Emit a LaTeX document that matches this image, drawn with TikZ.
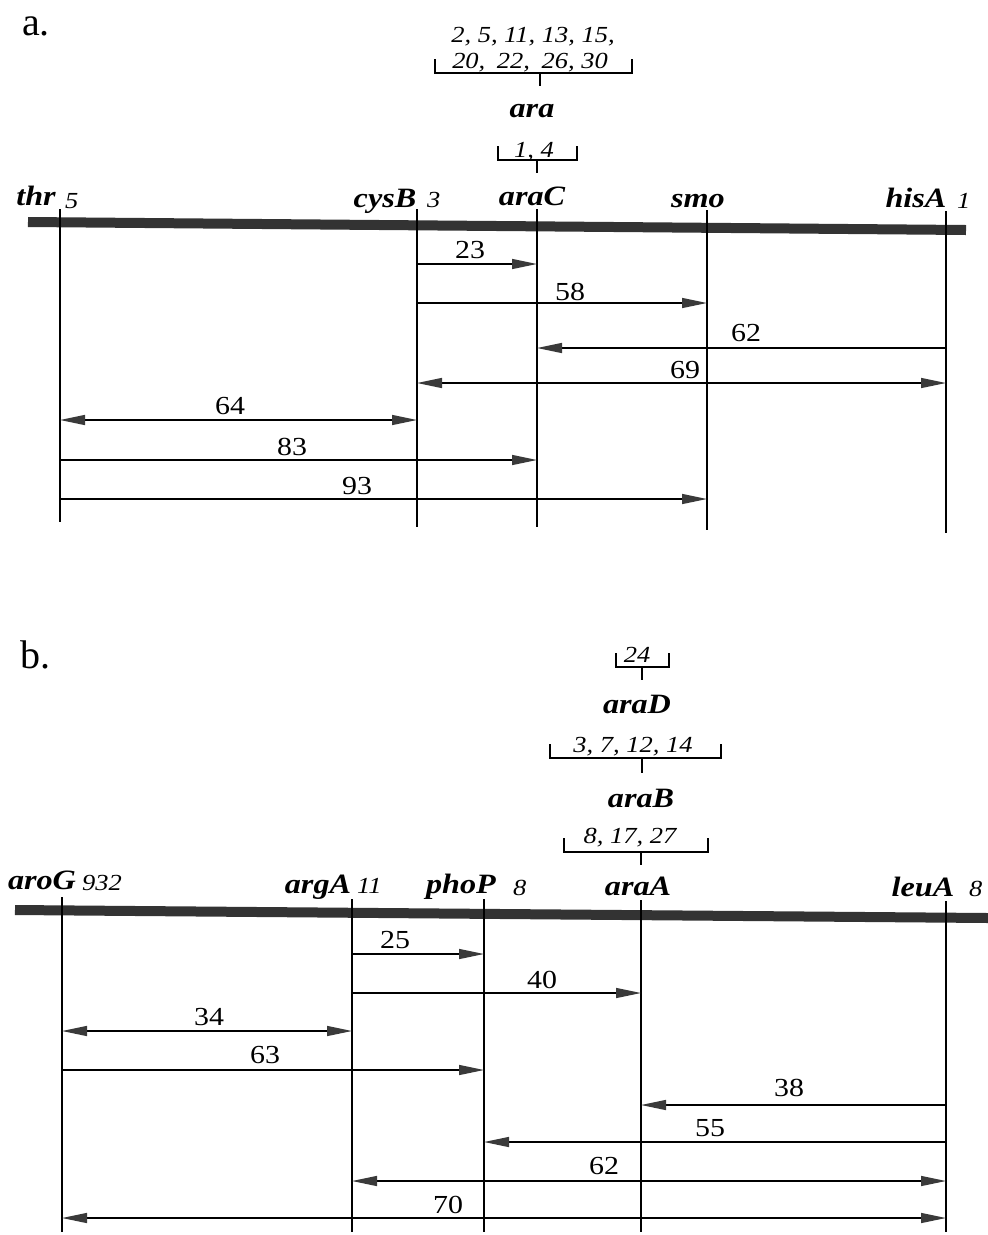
\documentclass[tikz,border=0pt]{standalone}
\usepackage{fontspec}
\setmainfont[FakeStretch=1.15]{Liberation Serif}
\newfontfamily\plainserif{Liberation Serif}
\usetikzlibrary{arrows.meta}
\definecolor{barcol}{HTML}{333333}
\definecolor{headcol}{HTML}{3A3A3A}
\tikzset{
  gene/.style={font=\bfseries\itshape\fontsize{28}{30}\selectfont, inner sep=0pt, anchor=base},
  tagnum/.style={font=\itshape\fontsize{23}{25}\selectfont, inner sep=0pt, anchor=base west},
  brnum/.style={font=\itshape\fontsize{23}{25}\selectfont, inner sep=0pt, anchor=base},
  dist/.style={font=\fontsize{26}{28}\selectfont, inner sep=0pt, anchor=base},
  part/.style={font=\plainserif\fontsize{40}{42}\selectfont, inner sep=0pt, anchor=base west},
  vline/.style={line width=1.6pt},
  chrom/.style={line width=10pt, color=barcol},
  brk/.style={line width=1.6pt},
  tip/.tip={Triangle[length=25pt,width=10pt,color=headcol,fill=headcol]},
  arr/.style={line width=1.4pt, -tip},
  barr/.style={line width=1.4pt, tip-tip},
}
\begin{document}
\begin{tikzpicture}[x=1pt,y=-1pt]
\useasboundingbox (0,0) rectangle (988,1235);

% ================= part a =================
\node[part] (la) at (22,35) {a.};
\draw[chrom] (28,222) -- (966,230);

\coordinate (thrT) at (60,209);  \coordinate (thrB) at (60,522);
\coordinate (cysT) at (417,209); \coordinate (cysB) at (417,527);
\coordinate (aracT) at (537,209); \coordinate (aracB) at (537,527);
\coordinate (smoT) at (707,210); \coordinate (smoB) at (707,530);
\coordinate (hisT) at (946,211); \coordinate (hisB) at (946,533);
\foreach \g in {thr,cys,arac,smo,his}{\draw[vline] (\g T) -- (\g B);}

\node[gene] (gthr) at (36,205) {thr};
\node[tagnum] (tthr) at (65,208) {5};
\node[gene] (gcys) at (385,207) {cysB};
\node[tagnum] (tcys) at (427,207) {3};
\node[gene] (garac) at (532,205) {araC};
\node[gene] (gsmo) at (698,207) {smo};
\node[gene] (ghis) at (916,207) {hisA};
\node[tagnum] (this) at (957,208) {1};

% brackets a
\draw[brk] (498,146) -- (498,160) -- (577,160) -- (577,146);
\draw[brk] (537,160) -- (537,173);
\node[brnum] (b14) at (534,157) {1, 4};
\node[gene] (gara) at (532,117) {ara};
\draw[brk] (435,59) -- (435,73) -- (632,73) -- (632,59);
\draw[brk] (540,73) -- (540,86);
\node[brnum] (bara1) at (533,42) {2, 5, 11, 13, 15,};
\node[brnum] (bara2) at (530,68) {20,\hspace{5pt} 22,\hspace{5pt} 26, 30};

% arrows a
\draw[arr] (cysT |- 0,264) -- (aracT |- 0,264);
\node[dist] (d23) at (470,258) {23};
\draw[arr] (cysT |- 0,303) -- (smoT |- 0,303);
\node[dist] (d58) at (570,300) {58};
\draw[arr] (hisT |- 0,348) -- (aracT |- 0,348);
\node[dist] (d62) at (746,341) {62};
\draw[barr] (cysT |- 0,383) -- (hisT |- 0,383);
\node[dist] (d69) at (685,378) {69};
\draw[barr] (thrT |- 0,420) -- (cysT |- 0,420);
\node[dist] (d64) at (230,414) {64};
\draw[arr] (thrT |- 0,460) -- (aracT |- 0,460);
\node[dist] (d83) at (292,455) {83};
\draw[arr] (thrT |- 0,499) -- (smoT |- 0,499);
\node[dist] (d93) at (357,494) {93};

% ================= part b =================
\node[part] (lb) at (20,668) {b.};
\draw[chrom] (15,910) -- (988,918);

\coordinate (aroT) at (62,897);  \coordinate (aroB) at (62,1232);
\coordinate (argT) at (352,899); \coordinate (argB) at (352,1232);
\coordinate (phoT) at (484,899); \coordinate (phoB) at (484,1232);
\coordinate (araaT) at (641,900); \coordinate (araaB) at (641,1232);
\coordinate (leuT) at (946,901); \coordinate (leuB) at (946,1232);
\foreach \g in {aro,arg,pho,araa,leu}{\draw[vline] (\g T) -- (\g B);}

\node[gene] (garo) at (42,889) {aroG};
\node[tagnum] (taro) at (82,890) {932};
\node[gene] (garg) at (318,893) {argA};
\node[tagnum] (targ) at (357,893) {11};
\node[gene] (gpho) at (461,893) {phoP};
\node[tagnum] (tpho) at (513,895) {8};
\node[gene] (garaa) at (638,895) {araA};
\node[gene] (gleu) at (923,896) {leuA};
\node[tagnum] (tleu) at (969,896) {8};

% brackets b
\draw[brk] (616,653) -- (616,667) -- (669,667) -- (669,653);
\draw[brk] (642,667) -- (642,680);
\node[brnum] (b24) at (637,662) {24};
\node[gene] (garad) at (637,713) {araD};
\draw[brk] (550,744) -- (550,758) -- (721,758) -- (721,744);
\draw[brk] (642,758) -- (642,773);
\node[brnum] (b3714) at (633,752) {3, 7, 12, 14};
\node[gene] (garab) at (641,807) {araB};
\draw[brk] (564,838) -- (564,852) -- (708,852) -- (708,838);
\draw[brk] (641,852) -- (641,865);
\node[brnum] (b81727) at (630,843) {8, 17, 27};

% arrows b
\draw[arr] (argT |- 0,954) -- (phoT |- 0,954);
\node[dist] (e25) at (395,948) {25};
\draw[arr] (argT |- 0,993) -- (araaT |- 0,993);
\node[dist] (e40) at (542,988) {40};
\draw[barr] (aroT |- 0,1031) -- (argT |- 0,1031);
\node[dist] (e34) at (209,1025) {34};
\draw[arr] (aroT |- 0,1070) -- (phoT |- 0,1070);
\node[dist] (e63) at (265,1063) {63};
\draw[arr] (leuT |- 0,1105) -- (araaT |- 0,1105);
\node[dist] (e38) at (789,1096) {38};
\draw[arr] (leuT |- 0,1142) -- (phoT |- 0,1142);
\node[dist] (e55) at (710,1136) {55};
\draw[barr] (argT |- 0,1181) -- (leuT |- 0,1181);
\node[dist] (e62) at (604,1174) {62};
\draw[barr] (aroT |- 0,1218) -- (leuT |- 0,1218);
\node[dist] (e70) at (448,1213) {70};
\end{tikzpicture}
\end{document}
